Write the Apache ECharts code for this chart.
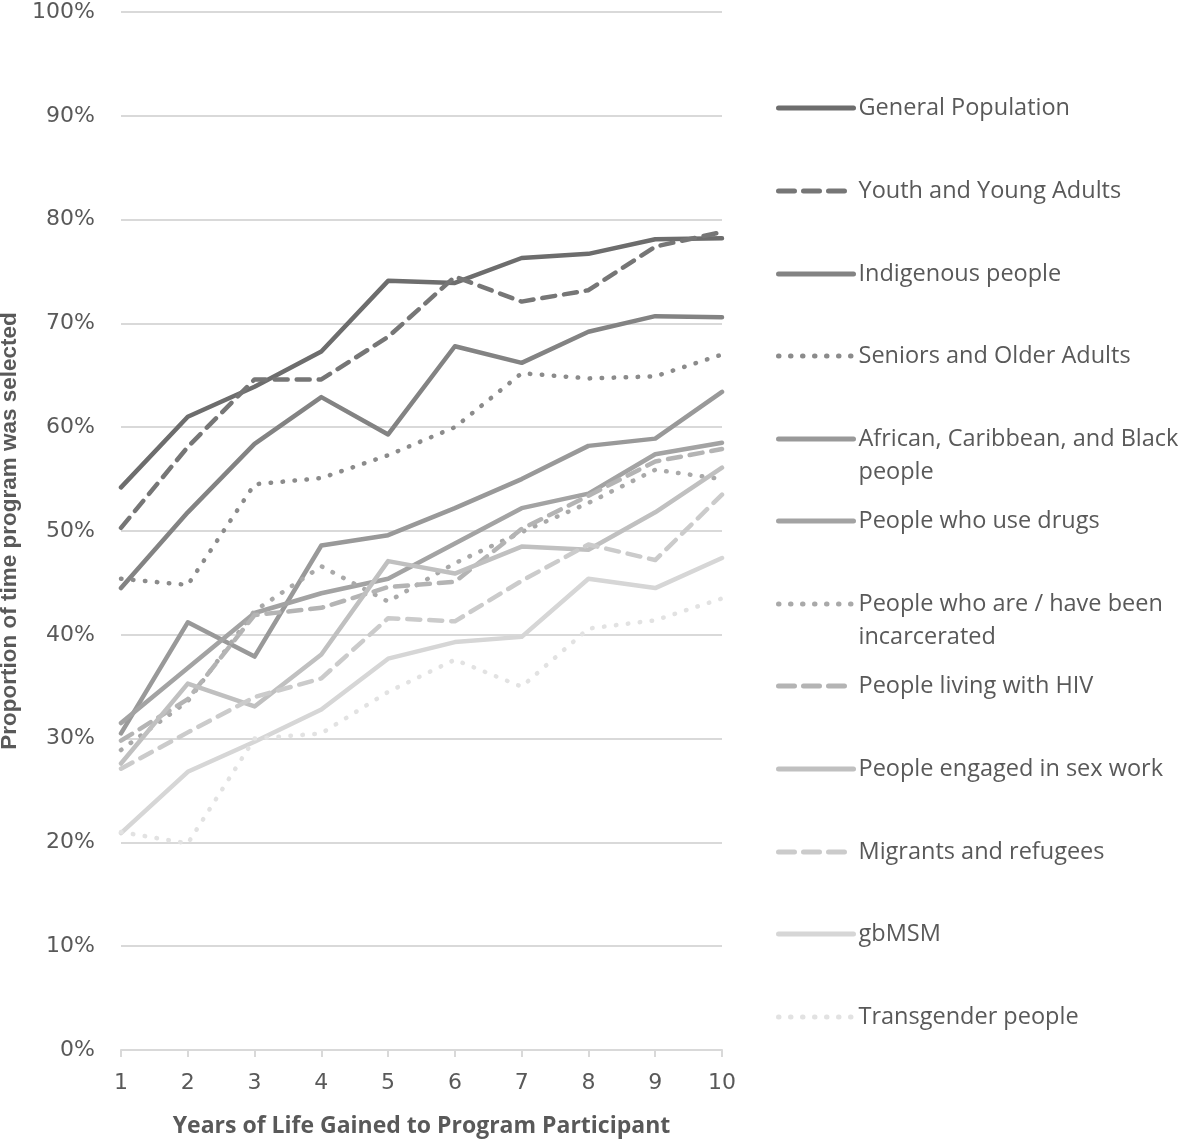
<!DOCTYPE html>
<html>
<head>
<meta charset="utf-8">
<script src="https://cdn.jsdelivr.net/npm/echarts@6/dist/echarts.min.js"></script>
<style>html,body{margin:0;padding:0;background:#fff}#chart{width:1184px;height:1140px}</style>
</head>
<body>
<div id="chart"></div>
<script>
const years = ['1','2','3','4','5','6','7','8','9','10'];
const seriesNames = ['General Population','Youth and Young Adults','Indigenous people','Seniors and Older Adults','African, Caribbean, and Black people','People who use drugs','People who are / have been incarcerated','People living with HIV','People engaged in sex work','Migrants and refugees','gbMSM','Transgender people'];
const generalPopulation = [54.2, 61.0, 63.9, 67.3, 74.1, 73.9, 76.3, 76.7, 78.1, 78.2];
const youthYoungAdults = [50.3, 58.1, 64.6, 64.6, 68.7, 74.5, 72.1, 73.2, 77.4, 78.8];
const indigenousPeople = [44.5, 51.8, 58.4, 62.9, 59.3, 67.8, 66.2, 69.2, 70.7, 70.6];
const seniorsOlderAdults = [45.4, 44.8, 54.5, 55.1, 57.3, 60.0, 65.2, 64.7, 64.9, 67.0];
const africanCaribbeanBlack = [30.5, 41.2, 37.9, 48.6, 49.6, 52.2, 55.0, 58.2, 58.9, 63.4];
const peopleWhoUseDrugs = [31.5, 36.8, 42.1, 44.0, 45.4, 48.8, 52.2, 53.6, 57.4, 58.5];
const incarcerated = [28.9, 33.6, 42.3, 46.6, 43.2, 46.9, 49.9, 52.7, 55.9, 55.0];
const livingWithHIV = [29.8, 33.8, 41.9, 42.6, 44.6, 45.1, 50.2, 53.4, 56.7, 57.9];
const sexWork = [27.6, 35.3, 33.1, 38.1, 47.1, 45.9, 48.5, 48.2, 51.8, 56.1];
const migrantsRefugees = [27.1, 30.6, 34.0, 35.8, 41.6, 41.3, 45.2, 48.7, 47.2, 53.5];
const gbMSM = [20.9, 26.8, 29.7, 32.8, 37.7, 39.3, 39.8, 45.4, 44.5, 47.4];
const transgenderPeople = [21.0, 19.9, 30.0, 30.5, 34.5, 37.6, 35.0, 40.6, 41.4, 43.5];
const yTicks = {min: 0, max: 100, interval: 10};

const allData = [generalPopulation, youthYoungAdults, indigenousPeople, seniorsOlderAdults, africanCaribbeanBlack, peopleWhoUseDrugs, incarcerated, livingWithHIV, sexWork, migrantsRefugees, gbMSM, transgenderPeople];
const colors = ['#6d6d6d','#767676','#838383','#8b8b8b','#999999','#a3a3a3','#a9a9a9','#b4b4b4','#c0c0c0','#cbcbcb','#d6d6d6','#e2e2e2'];
const kinds = ['solid','dash','solid','dot','solid','solid','dot','dash','solid','dash','solid','dot'];
const dashFor = {solid: 'solid', dash: [13, 9], dot: [0.5, 11.5]};
const legendDashFor = {solid: 'solid', dash: [16, 9], dot: [0.5, 11.5]};
const legendLabels = {
  'African, Caribbean, and Black people': ' \nAfrican, Caribbean, and Black\npeople',
  'People who are / have been incarcerated': ' \nPeople who are / have been\nincarcerated'
};
const legendCenters = [108, 191, 274, 356, 439, 521, 604, 686, 769, 852, 934, 1017];

const series = seriesNames.map((name, i) => ({
  name: name,
  type: 'line',
  data: allData[i],
  symbol: 'none',
  showSymbol: false,
  smooth: false,
  color: colors[i],
  lineStyle: {color: colors[i], width: 4.5, type: dashFor[kinds[i]], cap: 'round', join: 'round'}
}));

const LH = 33;
const legends = seriesNames.map((name, i) => {
  const twoLine = !!legendLabels[name];
  const boxH = twoLine ? LH * 3 : LH;
  return {
    data: [name],
    left: 776,
    top: legendCenters[i] - boxH / 2,
    orient: 'vertical',
    itemWidth: 75,
    itemHeight: 14,
    itemGap: 0,
    padding: 0,
    selectedMode: false,
    formatter: (n) => legendLabels[n] || n,
    itemStyle: {opacity: 0},
    lineStyle: {width: 5, type: legendDashFor[kinds[i]], cap: 'round', opacity: 1},
    textStyle: {
      fontFamily: 'Open Sans',
      fontSize: 23.5,
      color: '#595959',
      lineHeight: LH
    }
  };
});

const chart = echarts.init(document.getElementById('chart'));
chart.setOption({
  animation: false,
  backgroundColor: '#ffffff',
  grid: {left: 121, right: 462, top: 12, bottom: 90, containLabel: false, outerBoundsMode: 'none'},
  legend: legends,
  xAxis: {
    type: 'category',
    data: years,
    boundaryGap: false,
    name: 'Years of Life Gained to Program Participant',
    nameLocation: 'middle',
    nameGap: 65,
    nameTextStyle: {fontFamily: 'Open Sans', fontWeight: 'bold', fontSize: 23, color: '#595959'},
    axisLine: {lineStyle: {color: '#d9d9d9', width: 2}},
    axisTick: {show: true, length: 7, lineStyle: {color: '#d9d9d9', width: 2}},
    axisLabel: {fontFamily: 'DejaVu Sans', fontSize: 22, color: '#595959', margin: 22}
  },
  yAxis: {
    type: 'value',
    min: yTicks.min,
    max: yTicks.max,
    interval: yTicks.interval,
    name: 'Proportion of time program was selected',
    nameLocation: 'middle',
    nameGap: 97,
    nameRotate: 90,
    nameTextStyle: {fontFamily: 'Liberation Sans', fontWeight: 'bold', fontSize: 22.5, color: '#595959'},
    axisLine: {show: false},
    axisTick: {show: false},
    splitLine: {lineStyle: {color: '#d9d9d9', width: 2}},
    axisLabel: {formatter: '{value}%', fontFamily: 'DejaVu Sans', fontSize: 22, color: '#595959', margin: 26}
  },
  series: series
});
</script>
</body>
</html>
